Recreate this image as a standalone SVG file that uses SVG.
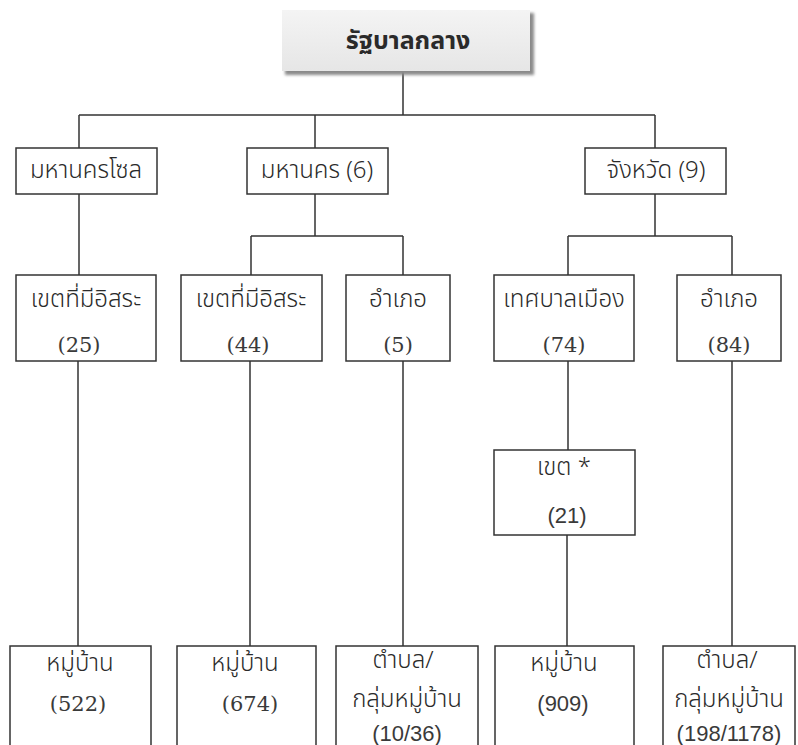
<svg xmlns="http://www.w3.org/2000/svg" width="798" height="745" viewBox="0 0 798 745">
<defs>
<linearGradient id="g" x1="0" y1="0" x2="0" y2="1"><stop offset="0" stop-color="#f4f4f4"/><stop offset="1" stop-color="#e6e6e6"/></linearGradient>
<filter id="sh" x="-10%" y="-20%" width="130%" height="150%"><feGaussianBlur stdDeviation="1.5"/></filter>
</defs>
<style>
.b{fill:#fff;stroke:#333;stroke-width:1.5}
.c{fill:none;stroke:#333;stroke-width:1.5}
.t{font-family:"Noto Sans Thai","Loma","Garuda","DejaVu Sans",sans-serif;font-size:24px;font-weight:300;fill:#2a2a2a;text-anchor:middle;dominant-baseline:central}
.n{font-family:"DejaVu Serif",serif;font-size:21px;font-weight:normal;fill:#3a3a3a;text-anchor:middle;dominant-baseline:central}
.s{font-family:"Liberation Sans",sans-serif;font-size:22px;font-weight:normal;fill:#3a3a3a;text-anchor:middle;dominant-baseline:central}
</style>
<g id="connectors">
<path class="c" d="M403 72V115M79 115H655M79 115V148M315 115V148M655 115V148"/>
<path class="c" d="M79 194V275M315 194V236M251 236H403M251 236V275M403 236V275M655 194V236M568 236H732M568 236V275M732 236V275"/>
<path class="c" d="M78 361V646M250 361V646M403 361V646M568 361V450M567 535V646M732 361V646"/>
</g>
<g id="root">
<rect x="285" y="13" width="249" height="62" fill="#8a8a8a" filter="url(#sh)"/>
<rect x="282" y="10" width="248" height="61" fill="url(#g)"/>
<text class="t" x="408" y="41" style="font-weight:bold;font-size:25px">รัฐบาลกลาง</text>
</g>
<g id="seoul"><rect class="b" x="16" y="148" width="141" height="46"/><text class="t" x="86" y="171">มหานครโซล</text></g>
<g id="metro"><rect class="b" x="247" y="148" width="141" height="46"/><text class="t" x="317" y="171">มหานคร (6)</text></g>
<g id="province"><rect class="b" x="585" y="148" width="141" height="46"/><text class="t" x="656" y="171">จังหวัด (9)</text></g>
<g id="gu25"><rect class="b" x="16" y="275" width="140" height="86"/><text class="t" x="86" y="300">เขตที่มีอิสระ</text><text class="n" x="79" y="345">(25)</text></g>
<g id="gu44"><rect class="b" x="181" y="275" width="141" height="86"/><text class="t" x="251" y="300">เขตที่มีอิสระ</text><text class="n" x="248" y="345">(44)</text></g>
<g id="gun5"><rect class="b" x="346" y="275" width="104" height="86"/><text class="t" x="398" y="300">อำเภอ</text><text class="n" x="398" y="345">(5)</text></g>
<g id="city74"><rect class="b" x="494" y="275" width="140" height="86"/><text class="t" x="564" y="300">เทศบาลเมือง</text><text class="n" x="564" y="345">(74)</text></g>
<g id="gun84"><rect class="b" x="677" y="275" width="104" height="86"/><text class="t" x="729" y="300">อำเภอ</text><text class="n" x="729" y="345">(84)</text></g>
<g id="gu21"><rect class="b" x="494" y="450" width="141" height="85"/><text class="t" x="564" y="468">เขต *</text><text class="s" x="567" y="515">(21)</text></g>
<g id="v522"><path class="c" d="M10 745V646H151V745"/><text class="t" x="80" y="664">หมู่บ้าน</text><text class="n" x="78" y="704">(522)</text></g>
<g id="v674"><path class="c" d="M177 745V646H316V745"/><text class="t" x="245" y="664">หมู่บ้าน</text><text class="n" x="250" y="704">(674)</text></g>
<g id="v1036"><path class="c" d="M336 745V646H478V745"/><text class="t" x="403" y="661">ตำบล/</text><text class="t" x="407" y="700">กลุ่มหมู่บ้าน</text><text class="s" x="407" y="733">(10/36)</text></g>
<g id="v909"><path class="c" d="M495 745V646H634V745"/><text class="t" x="564" y="664">หมู่บ้าน</text><text class="s" x="563" y="703">(909)</text></g>
<g id="v198"><path class="c" d="M663 745V646H795V745"/><text class="t" x="727" y="661">ตำบล/</text><text class="t" x="729" y="700">กลุ่มหมู่บ้าน</text><text class="s" x="729" y="733">(198/1178)</text></g>
</svg>
